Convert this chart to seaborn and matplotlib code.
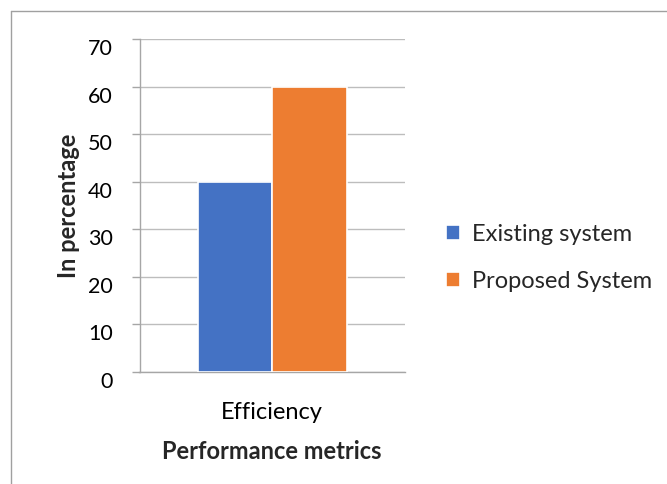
import matplotlib
matplotlib.use("Agg")
import matplotlib.pyplot as plt
import matplotlib.transforms as mtransforms
from matplotlib.lines import Line2D
import seaborn as sns
import pandas as pd

categories = ["Efficiency"]
systems = ["Existing system", "Proposed System"]
existing_values = [40]
proposed_values = [60]
y_ticks = [0, 10, 20, 30, 40, 50, 60, 70]

colors = ["#4472C4", "#ED7D31"]

df = pd.DataFrame({
    "metric": categories * 2,
    "system": [systems[0]] * len(categories) + [systems[1]] * len(categories),
    "value": existing_values + proposed_values,
})

sns.set_theme(style="white")
plt.rcParams["font.family"] = ["Lato", "DejaVu Sans"]

W, H = 667, 484
fig = plt.figure(figsize=(W / 100, H / 100), dpi=100)
ax = fig.add_axes([139.5 / W, 1 - 371.7 / H, (405 - 139.5) / W, (371.7 - 39.3) / H])

sns.barplot(data=df, x="metric", y="value", hue="system", palette=colors,
            saturation=1, width=0.56, edgecolor="white", linewidth=1.2,
            ax=ax, zorder=3)

ax.set_xlim(-0.5, 0.5)
ax.set_ylim(0, 70)
ax.set_yticks(y_ticks)
ax.yaxis.grid(True, color="#bdbdbd", linewidth=1.0, zorder=0)
ax.xaxis.grid(False)

for side in ["top", "right"]:
    ax.spines[side].set_visible(False)
for side in ["left", "bottom"]:
    ax.spines[side].set_color("#a6a6a6")
    ax.spines[side].set_linewidth(1.0)

ax.tick_params(axis="y", which="both", left=True, length=6, width=1.0,
               color="#a6a6a6", labelsize=15.5, pad=13, labelcolor="black")
ax.tick_params(axis="x", bottom=False, labelsize=17, pad=16, labelcolor="black")

# value labels sit slightly below their gridlines
shift = mtransforms.ScaledTranslation(0, -8 / 100, fig.dpi_scale_trans)
for lbl in ax.get_yticklabels():
    lbl.set_transform(lbl.get_transform() + shift)

ax.set_xlabel("Performance metrics", fontsize=17, fontweight="bold", labelpad=12)
ax.set_ylabel("In percentage", fontsize=17, fontweight="bold", labelpad=6)

handles, labels = ax.get_legend_handles_labels()
ax.legend(handles, labels, loc="center left", bbox_to_anchor=(425 / W, 1 - 258 / H),
          bbox_transform=fig.transFigure, frameon=False, fontsize=17,
          handlelength=0.6, handleheight=0.6, handletextpad=0.5, labelspacing=1.1)

# outer frame (top and left edges)
fig.add_artist(Line2D([11 / W, 1.0], [1 - 11 / H, 1 - 11 / H], color="#a0a0a0",
                      linewidth=1.0, transform=fig.transFigure))
fig.add_artist(Line2D([11 / W, 11 / W], [0.0, 1 - 11 / H], color="#a0a0a0",
                      linewidth=1.0, transform=fig.transFigure))

fig.savefig("out.png", dpi=100)
